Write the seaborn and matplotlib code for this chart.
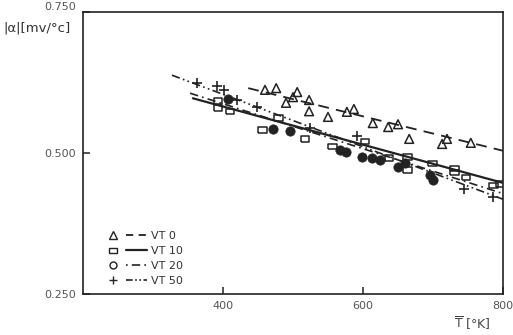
import matplotlib
matplotlib.use("Agg")
import matplotlib.pyplot as plt
from matplotlib.lines import Line2D
from matplotlib.legend_handler import HandlerTuple
import seaborn as sns
import numpy as np

# ---- data ----
t_vt0 = [460, 476, 490, 500, 506, 523, 523, 550, 577, 587, 614, 636, 650, 666, 713, 720, 754]
a_vt0 = [0.612, 0.615, 0.589, 0.599, 0.608, 0.594, 0.574, 0.564, 0.573, 0.578, 0.553, 0.546,
         0.551, 0.525, 0.516, 0.525, 0.518]

t_vt10 = [393, 393, 410, 456, 479, 517, 556, 603, 637, 664, 664, 699, 731, 731, 747, 786, 796]
a_vt10 = [0.592, 0.580, 0.573, 0.541, 0.562, 0.525, 0.511, 0.520, 0.491, 0.493, 0.470, 0.482,
          0.473, 0.465, 0.457, 0.443, 0.445]

t_vt20 = [407, 471, 496, 567, 576, 599, 613, 624, 650, 660, 696, 700]
a_vt20 = [0.596, 0.543, 0.539, 0.505, 0.502, 0.493, 0.491, 0.488, 0.475, 0.482, 0.461, 0.452]

t_vt50 = [363, 391, 401, 420, 449, 524, 591, 744, 786]
a_vt50 = [0.624, 0.619, 0.612, 0.594, 0.582, 0.544, 0.530, 0.436, 0.422]

# fitted lines (end points)
fit_t_vt0 = [436, 800]
fit_a_vt0 = [0.615, 0.504]
fit_t_vt10 = [357, 800]
fit_a_vt10 = [0.597, 0.447]
fit_t_vt20 = [353, 800]
fit_a_vt20 = [0.606, 0.428]
fit_t_vt50 = [327, 800]
fit_a_vt50 = [0.638, 0.418]

series_labels = ["VT 0", "VT 10", "VT 20", "VT 50"]
x_ticks = [400, 600, 800]
y_ticks = [0.250, 0.500, 0.750]
y_tick_labels = ["0.250", "0.500", "0.750"]

# ---- styling ----
sns.set_theme(style="white")
plt.rcParams["font.family"] = ["DejaVu Sans"]
ink = "#222222"
gray = "#555555"

fig = plt.figure(figsize=(5.13, 3.35), dpi=100)
ax = fig.add_axes([83 / 513, 1 - 294 / 335, 420 / 513, 282 / 335])

# lines
sns.lineplot(x=fit_t_vt0, y=fit_a_vt0, ax=ax, color=ink, linewidth=1.3,
             linestyle=(0, (6, 4)), estimator=None, sort=False)
sns.lineplot(x=fit_t_vt10, y=fit_a_vt10, ax=ax, color=ink, linewidth=1.6,
             linestyle="-", estimator=None, sort=False)
sns.lineplot(x=fit_t_vt20, y=fit_a_vt20, ax=ax, color=ink, linewidth=1.2,
             linestyle=(0, (5, 2.5, 1, 2.5)), estimator=None, sort=False)
sns.lineplot(x=fit_t_vt50, y=fit_a_vt50, ax=ax, color=ink, linewidth=1.2,
             linestyle=(0, (5, 2, 1, 2, 1, 2)), estimator=None, sort=False)

# points
sns.scatterplot(x=t_vt0, y=a_vt0, ax=ax, marker="^", s=40, facecolor="none",
                edgecolor=ink, linewidth=1.1)
rect = [(-1, -0.6), (1, -0.6), (1, 0.6), (-1, 0.6), (-1, -0.6)]
sns.scatterplot(x=t_vt10, y=a_vt10, ax=ax, marker=rect, s=40, facecolor="none",
                edgecolor=ink, linewidth=1.1)
sns.scatterplot(x=t_vt20, y=a_vt20, ax=ax, marker="o", s=45, color=ink,
                edgecolor=ink, linewidth=0.5)
sns.scatterplot(x=t_vt50, y=a_vt50, ax=ax, marker="+", s=45, color=ink, linewidth=1.2)

ax.set_xlim(200, 800)
ax.set_ylim(0.25, 0.75)
ax.set_xticks(x_ticks)
ax.set_xticklabels([str(v) for v in x_ticks])
ax.set_yticks(y_ticks)
ax.set_yticklabels(y_tick_labels)
ax.set_xlabel("")
ax.set_ylabel("")
ax.tick_params(direction="in", length=5, width=1.1, colors=ink, labelcolor=gray,
               labelsize=8, pad=5, left=True, bottom=True)
for sp in ax.spines.values():
    sp.set_visible(True)
    sp.set_color(ink)
    sp.set_linewidth(1.2)
# nudge the top tick label up a little, as in the reference
ax.get_yticklabels()[-1].set_va("bottom")

# axis labels
fig.text(3 / 513, 1 - 28 / 335, "|α|[mv/°c]", fontsize=9.5, color="#333333",
         ha="left", va="center")
fig.text(472 / 513, 1 - 324 / 335, r"$\overline{\mathrm{T}}$ [°K]", fontsize=9,
         color="#444444", ha="center", va="center")

# legend: marker, then line, then label
mk = [Line2D([], [], ls="none", marker="^", ms=6, mfc="none", mec=ink, mew=1.0),
      Line2D([], [], ls="none", marker=rect, ms=6, mfc="none", mec=ink, mew=1.0),
      Line2D([], [], ls="none", marker="o", ms=5, mfc="none", mec=ink, mew=1.0),
      Line2D([], [], ls="none", marker="+", ms=6, mec=ink, mew=1.0)]
ln = [Line2D([], [], color=ink, lw=1.3, ls=(0, (4, 3))),
      Line2D([], [], color=ink, lw=1.6, ls="-"),
      Line2D([], [], color=ink, lw=1.2, ls=(0, (1, 2.5, 5, 2.5))),
      Line2D([], [], color=ink, lw=1.2, ls=(0, (4, 1.5, 1, 1.5, 1, 1.5)))]
handles = [(m, l) for m, l in zip(mk, ln)]
ax.legend(handles, series_labels, handler_map={tuple: HandlerTuple(ndivide=None, pad=0.2)},
          loc="upper left", bbox_to_anchor=(0.028, 0.25), frameon=False,
          fontsize=8, handlelength=4.0, handletextpad=0.4, labelspacing=0.45,
          borderpad=0.2, labelcolor="#333333")

fig.savefig("out.png", dpi=100, facecolor="white")
